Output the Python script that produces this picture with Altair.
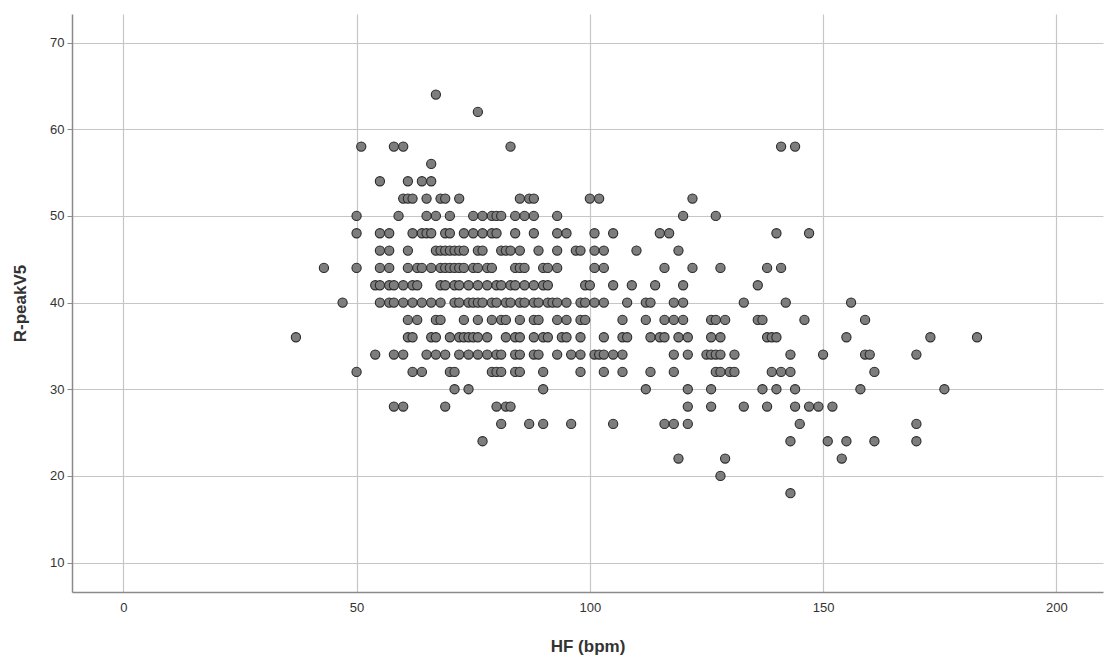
import altair as alt
import pandas as pd

# Heart rate (bpm) values grouped by their R-peak V5 amplitude level
rows = {
    64: [67],
    62: [76],
    58: [51, 58, 60, 83, 141, 144],
    56: [66],
    54: [55, 61, 64, 66],
    52: [60, 61, 62, 65, 68, 69, 72, 85, 87, 88, 100, 102, 122],
    50: [50, 59, 65, 67, 70, 75, 77, 79, 80, 81, 84, 86, 88, 93, 120, 127],
    48: [50, 55, 57, 62, 64, 65, 66, 69, 70, 73, 75, 77, 79, 80, 84, 88, 93,
         95, 101, 105, 115, 117, 140, 147],
    46: [55, 57, 61, 67, 68, 69, 70, 71, 72, 73, 76, 77, 81, 82, 83, 85, 89,
         93, 97, 98, 101, 103, 110, 119],
    44: [43, 50, 55, 57, 61, 63, 64, 66, 68, 69, 70, 71, 72, 73, 75, 76, 78,
         79, 84, 85, 86, 90, 91, 93, 101, 103, 116, 122, 128, 138, 141],
    42: [54, 55, 57, 58, 60, 62, 63, 68, 69, 71, 72, 74, 76, 78, 80, 81, 83,
         84, 86, 88, 90, 91, 99, 100, 105, 109, 114, 120, 136],
    40: [47, 55, 57, 58, 60, 62, 64, 66, 68, 71, 72, 74, 75, 76, 77, 79, 80,
         82, 83, 85, 86, 88, 89, 91, 92, 93, 95, 98, 99, 101, 103, 108, 112,
         113, 118, 120, 133, 142, 156],
    38: [61, 63, 67, 68, 73, 76, 79, 81, 82, 85, 88, 89, 93, 95, 98, 99, 107,
         112, 116, 118, 120, 126, 127, 129, 136, 137, 146, 159],
    36: [37, 61, 62, 66, 67, 70, 72, 73, 74, 75, 76, 78, 82, 84, 85, 88, 90,
         91, 94, 95, 98, 103, 107, 108, 113, 115, 116, 119, 121, 126, 128, 138,
         139, 140, 155, 173, 183],
    34: [54, 58, 60, 65, 67, 69, 72, 74, 76, 78, 80, 81, 84, 85, 88, 89, 93,
         96, 98, 101, 102, 103, 105, 107, 118, 121, 125, 126, 127, 128, 131,
         143, 150, 159, 160, 170],
    32: [50, 62, 64, 70, 71, 79, 80, 81, 84, 85, 90, 98, 103, 107, 113, 118,
         127, 128, 130, 131, 139, 141, 143, 161],
    30: [71, 74, 90, 112, 121, 126, 137, 140, 144, 158, 176],
    28: [58, 60, 69, 80, 82, 83, 121, 126, 133, 138, 144, 147, 149, 152],
    26: [81, 87, 90, 96, 105, 116, 118, 121, 145, 170],
    24: [77, 143, 151, 155, 161, 170],
    22: [119, 129, 154],
    20: [128],
    18: [143],
}

hf = [x for level in rows for x in rows[level]]
rpeak = [level for level in rows for _ in rows[level]]
df = pd.DataFrame({"HF": hf, "R": rpeak})

x_ticks = [0, 50, 100, 150, 200]
y_ticks = [10, 20, 30, 40, 50, 60, 70]

points = alt.Chart(df).mark_circle(
    size=85, color="#7d7d7d", opacity=1, stroke="#2a2a2a", strokeWidth=1.1
).encode(
    x=alt.X(
        "HF:Q",
        scale=alt.Scale(domain=[-11, 210], nice=False, zero=False),
        axis=alt.Axis(
            values=x_ticks, title="HF (bpm)", ticks=False, labelPadding=9,
            titlePadding=24,
        ),
    ),
    y=alt.Y(
        "R:Q",
        scale=alt.Scale(domain=[6.6, 73.3], nice=False, zero=False),
        axis=alt.Axis(
            values=y_ticks, title="R-peakV5", tickSize=5, labelPadding=3,
            titlePadding=20,
        ),
    ),
)

chart = (
    points.properties(
        width=1031,
        height=578,
        autosize=alt.AutoSizeParams(type="none"),
        padding={"left": 72, "top": 14, "right": 2, "bottom": 68},
    )
    .configure_view(stroke=None)
    .configure_axis(
        grid=True,
        gridColor="#c6c6c6",
        gridWidth=1.2,
        domainColor="#8a8a8a",
        domainWidth=1.5,
        tickColor="#8a8a8a",
        labelFont="Liberation Sans",
        labelFontSize=13,
        labelColor="#333333",
        titleFont="Liberation Sans",
        titleFontSize=17,
        titleFontWeight="bold",
        titleColor="#333333",
    )
)

chart.save("out.html", embed_options={"renderer": "svg", "actions": False})
